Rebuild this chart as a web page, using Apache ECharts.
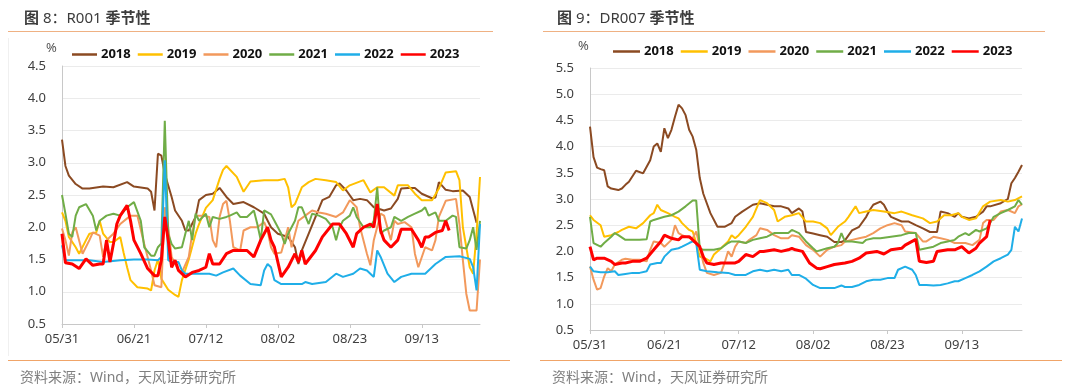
<!DOCTYPE html>
<html>
<head>
<meta charset="utf-8">
<script src="https://cdn.jsdelivr.net/npm/echarts@6/dist/echarts.min.js"></script>
<style>
html,body{margin:0;padding:0;background:#fff;}
#c{width:1080px;height:392px;}
</style>
</head>
<body>
<div id="c"></div>
<script>
// ---- categories: calendar days 05/31 .. 09/30 ----
const startDay = [2023, 4, 31];
const dayCount = 123;
const categories = [];
for (let i = 0; i < dayCount; i++) {
  const d = new Date(startDay[0], startDay[1], startDay[2] + i);
  categories.push(String(d.getMonth() + 1).padStart(2, '0') + '/' + String(d.getDate()).padStart(2, '0'));
}
const years = ['2018', '2019', '2020', '2021', '2022', '2023'];
const yTicksLeft = [0.5, 4.5, 0.5];   // min, max, interval
const yTicksRight = [0.5, 5.5, 0.5];

// ---- R001 series: [day index since 05/31, value] ----
const r001_2018 = [[0,3.36],[1,2.95],[2,2.8],[4,2.67],[6,2.6],[8,2.6],[12,2.63],[15,2.62],[19,2.7],[21,2.63],[25,2.6],[26,2.55],[27,2.26],[28,3.14],[29,3.11],[30,2.83],[32,2.47],[33,2.26],[35,2.1],[36,1.95],[37,1.95],[39,2.16],[40,2.42],[42,2.5],[44,2.52],[46,2.61],[48,2.47],[50,2.36],[53,2.39],[56,2.31],[59,2.21],[61,2.0],[63,1.9],[66,1.85],[68,1.69],[69,1.43],[70,1.64],[72,1.9],[74,2.16],[76,2.42],[78,2.47],[80,2.65],[81,2.68],[83,2.57],[85,2.42],[87,2.44],[89,2.42],[91,2.31],[94,2.26],[96,2.29],[98,2.44],[99,2.6],[101,2.61],[103,2.61],[105,2.52],[108,2.45],[109,2.46],[110,2.7],[112,2.58],[114,2.56],[117,2.57],[119,2.47],[121,2.07]];
const r001_2019 = [[0,2.23],[1,2.1],[2,1.85],[4,1.69],[5,1.59],[7,1.8],[8,1.9],[10,1.92],[11,2.1],[12,1.9],[14,1.77],[15,1.77],[17,1.85],[18,1.6],[19,1.38],[20,1.18],[22,1.07],[25,1.05],[26,1.02],[27,1.33],[28,1.5],[29,1.2],[31,1.03],[33,0.95],[34,0.92],[35,1.18],[37,1.5],[39,1.9],[40,2.05],[42,2.3],[44,2.42],[46,2.75],[47,2.89],[48,2.95],[51,2.78],[53,2.55],[55,2.71],[59,2.73],[61,2.73],[63,2.73],[65,2.75],[66,2.62],[67,2.31],[68,2.36],[70,2.62],[72,2.7],[74,2.75],[77,2.73],[80,2.7],[82,2.57],[84,2.65],[88,2.73],[90,2.54],[92,2.62],[94,2.62],[97,2.49],[98,2.65],[101,2.65],[103,2.52],[105,2.42],[108,2.42],[110,2.6],[112,2.85],[115,2.87],[116,2.73],[117,2.0],[119,1.38],[120,1.28],[121,1.9],[122,2.78]];
const r001_2020 = [[0,1.98],[1,1.8],[2,1.56],[3,1.92],[4,2.0],[6,1.59],[8,1.8],[9,1.92],[11,1.87],[12,1.54],[13,1.8],[15,1.9],[17,2.05],[20,2.18],[22,2.18],[24,1.74],[26,1.33],[27,1.1],[29,1.07],[30,2.31],[31,2.0],[32,1.54],[34,1.33],[35,1.3],[37,1.54],[38,1.9],[39,2.18],[41,2.18],[43,2.16],[44,1.8],[45,1.69],[46,2.16],[47,2.36],[48,2.41],[49,2.1],[50,1.69],[52,1.64],[53,1.95],[55,2.0],[57,2.0],[59,2.08],[60,1.95],[61,1.69],[62,1.59],[64,1.61],[65,1.8],[66,2.0],[67,1.69],[69,2.1],[71,2.18],[73,2.26],[75,2.23],[77,2.21],[80,2.16],[82,2.23],[84,2.42],[86,2.31],[87,2.0],[89,1.59],[90,1.41],[91,1.8],[93,2.21],[94,2.18],[96,1.8],[97,2.1],[98,2.05],[100,2.08],[102,2.0],[103,1.59],[104,1.38],[106,1.69],[108,1.64],[109,1.8],[110,2.16],[112,2.41],[115,2.44],[116,2.05],[117,1.49],[118,0.97],[119,0.71],[121,0.71],[122,1.5]];
const r001_2021 = [[0,2.5],[1,2.21],[2,1.9],[3,1.85],[4,2.18],[5,2.31],[7,2.36],[9,2.18],[10,1.95],[11,2.1],[13,2.18],[15,2.21],[17,2.18],[19,2.31],[21,2.39],[23,2.1],[24,1.69],[26,1.56],[27,1.56],[28,1.69],[29,1.75],[30,3.65],[31,1.9],[32,1.74],[33,1.67],[35,1.69],[36,1.9],[37,2.1],[38,1.8],[39,2.21],[40,2.1],[42,2.21],[43,2.0],[44,2.16],[46,2.13],[48,2.16],[49,2.18],[51,2.23],[52,2.16],[54,2.16],[56,2.26],[57,2.05],[58,1.8],[59,2.26],[61,2.2],[62,2.1],[64,1.9],[65,1.74],[66,1.9],[68,2.1],[69,2.31],[70,2.31],[72,2.05],[73,2.21],[75,2.18],[77,2.13],[79,2.0],[80,1.8],[81,2.0],[82,2.1],[84,2.18],[85,2.31],[86,2.16],[88,2.0],[90,2.0],[91,2.1],[92,2.62],[93,1.9],[94,1.95],[96,2.0],[97,2.16],[99,2.1],[101,2.16],[103,2.21],[105,2.26],[106,2.31],[107,2.18],[109,2.23],[110,2.1],[112,2.1],[114,2.18],[115,2.16],[116,1.69],[118,1.67],[119,1.8],[120,2.0],[121,1.65],[122,2.1]];
const r001_2022 = [[0,1.72],[1,1.49],[4,1.49],[8,1.49],[12,1.46],[17,1.49],[21,1.5],[25,1.5],[28,1.49],[29,1.54],[30,3.04],[31,1.49],[32,1.46],[34,1.46],[35,1.33],[36,1.28],[39,1.28],[43,1.28],[45,1.25],[47,1.3],[50,1.36],[52,1.25],[55,1.12],[58,1.1],[59,1.33],[60,1.43],[61,1.38],[62,1.18],[64,1.12],[67,1.12],[70,1.12],[71,1.15],[73,1.12],[77,1.15],[80,1.28],[82,1.23],[85,1.28],[87,1.36],[89,1.33],[91,1.23],[92,1.64],[93,1.54],[95,1.28],[97,1.15],[99,1.23],[102,1.28],[106,1.28],[109,1.43],[112,1.54],[116,1.55],[119,1.51],[120,1.38],[121,1.02],[122,2.05]];
const r001_2023 = [[0,1.9],[1,1.45],[3,1.43],[5,1.36],[7,1.51],[9,1.41],[11,1.43],[12,1.43],[13,1.8],[14,1.46],[15,1.74],[16,2.05],[17,2.18],[19,2.34],[20,2.1],[21,1.8],[23,1.59],[25,1.36],[27,1.25],[28,1.25],[29,1.49],[30,2.16],[31,1.8],[32,1.38],[33,1.49],[34,1.33],[36,1.23],[38,1.3],[40,1.33],[42,1.38],[43,1.59],[44,1.43],[46,1.43],[48,1.59],[50,1.64],[52,1.64],[54,1.64],[56,1.54],[58,1.8],[60,2.0],[61,1.8],[62,1.69],[64,1.23],[66,1.38],[68,1.59],[69,1.46],[70,1.64],[71,1.43],[74,1.64],[76,1.85],[79,2.05],[81,2.05],[83,1.9],[85,1.69],[86,1.9],[88,2.0],[90,2.05],[91,2.0],[92,2.36],[93,1.95],[94,1.8],[96,1.69],[98,1.8],[99,1.97],[102,1.97],[104,1.8],[105,1.69],[106,1.85],[107,1.85],[109,1.92],[111,1.95],[112,2.1],[113,1.95]];

// ---- DR007 series ----
const dr007_2018 = [[0,4.38],[1,3.8],[2,3.6],[3,3.57],[4,3.55],[5,3.24],[6,3.2],[8,3.17],[9,3.2],[10,3.27],[11,3.33],[13,3.54],[15,3.49],[17,3.74],[18,4.0],[19,4.06],[20,3.9],[21,4.35],[22,4.16],[23,4.32],[24,4.57],[25,4.8],[26,4.73],[27,4.6],[28,4.32],[29,4.19],[30,3.94],[31,3.4],[32,3.1],[34,2.73],[36,2.47],[38,2.47],[40,2.54],[41,2.66],[43,2.76],[46,2.89],[48,2.92],[50,2.89],[52,2.86],[54,2.86],[56,2.82],[57,2.73],[59,2.82],[60,2.76],[61,2.37],[63,2.34],[65,2.31],[67,2.28],[69,2.18],[71,2.18],[72,2.21],[74,2.4],[76,2.47],[78,2.66],[79,2.79],[80,2.89],[82,2.95],[83,2.89],[84,2.76],[85,2.66],[88,2.57],[90,2.57],[92,2.5],[94,2.44],[96,2.37],[98,2.37],[99,2.76],[101,2.73],[103,2.66],[104,2.73],[105,2.66],[107,2.63],[109,2.66],[111,2.76],[112,2.86],[113,2.86],[116,2.92],[118,3.0],[119,3.3],[120,3.4],[121,3.52],[122,3.65]];
const dr007_2019 = [[0,2.69],[1,2.6],[3,2.5],[4,2.28],[6,2.31],[8,2.37],[9,2.41],[11,2.47],[13,2.44],[15,2.54],[17,2.69],[18,2.73],[19,2.89],[20,2.79],[22,2.73],[24,2.66],[25,2.63],[26,2.54],[28,2.41],[29,2.38],[30,2.16],[31,1.9],[33,1.85],[34,1.81],[35,1.94],[37,2.06],[39,2.19],[40,2.31],[41,2.25],[42,2.31],[44,2.47],[46,2.66],[48,2.98],[50,2.92],[52,2.79],[53,2.57],[55,2.66],[57,2.69],[59,2.73],[61,2.57],[63,2.57],[65,2.54],[67,2.44],[68,2.31],[70,2.47],[72,2.57],[73,2.66],[75,2.86],[76,2.73],[78,2.76],[80,2.79],[83,2.76],[86,2.73],[88,2.76],[91,2.69],[94,2.63],[96,2.54],[98,2.57],[100,2.69],[102,2.69],[104,2.73],[105,2.66],[107,2.6],[109,2.63],[111,2.86],[113,2.95],[116,2.98],[118,2.95],[120,2.98],[122,3.05]];
const dr007_2020 = [[0,1.71],[1,1.46],[2,1.27],[3,1.3],[4,1.52],[5,1.68],[6,1.62],[7,1.75],[9,1.84],[10,1.86],[12,1.84],[14,1.84],[16,1.81],[17,2.03],[18,2.19],[20,2.16],[21,2.09],[23,2.22],[24,2.5],[25,2.35],[26,2.31],[27,2.28],[29,2.25],[30,2.38],[31,2.09],[32,1.78],[33,1.59],[35,1.55],[37,1.59],[38,1.78],[39,2.0],[40,1.9],[41,2.09],[42,2.19],[44,2.16],[45,2.22],[47,2.31],[48,2.44],[50,2.41],[52,2.31],[54,2.25],[56,2.25],[57,2.31],[59,2.28],[61,2.12],[63,2.03],[65,1.9],[67,2.03],[69,2.09],[71,2.12],[72,2.19],[74,2.22],[76,2.25],[78,2.28],[80,2.35],[82,2.44],[84,2.5],[86,2.54],[88,2.5],[89,2.38],[92,2.35],[94,2.19],[95,2.19],[97,2.28],[99,2.25],[101,2.22],[103,2.16],[104,2.16],[106,2.16],[108,2.12],[110,2.22],[111,2.54],[112,2.6],[114,2.6],[116,2.76],[118,2.79],[120,2.73],[121,2.86],[122,2.9]];
const dr007_2021 = [[0,2.66],[1,2.16],[3,2.09],[4,2.16],[6,2.28],[7,2.35],[8,2.31],[10,2.22],[12,2.22],[14,2.22],[16,2.23],[17,2.57],[18,2.6],[21,2.66],[23,2.69],[25,2.76],[27,2.86],[29,2.97],[30,2.97],[31,2.05],[32,2.03],[35,2.03],[37,2.06],[39,2.16],[40,2.19],[42,2.19],[44,2.16],[46,2.22],[48,2.25],[50,2.28],[52,2.35],[54,2.35],[56,2.35],[57,2.41],[59,2.35],[61,2.19],[63,2.06],[64,2.0],[67,2.06],[69,2.09],[70,2.16],[71,2.35],[72,2.19],[74,2.19],[77,2.16],[78,2.22],[80,2.25],[82,2.25],[85,2.28],[88,2.31],[90,2.35],[92,2.35],[93,2.03],[95,2.06],[97,2.09],[99,2.16],[101,2.19],[103,2.22],[104,2.28],[106,2.35],[107,2.31],[109,2.41],[110,2.38],[112,2.44],[113,2.54],[114,2.66],[116,2.73],[118,2.79],[120,2.86],[121,2.98],[122,2.89]];
const dr007_2022 = [[0,1.71],[1,1.62],[3,1.6],[5,1.6],[7,1.62],[8,1.55],[10,1.57],[12,1.59],[14,1.59],[16,1.62],[17,1.75],[19,1.78],[20,1.78],[21,1.9],[23,2.03],[25,2.06],[26,2.09],[28,2.16],[29,2.19],[30,2.16],[31,1.65],[33,1.62],[36,1.6],[39,1.59],[41,1.55],[42,1.55],[44,1.55],[46,1.62],[48,1.65],[50,1.62],[52,1.65],[54,1.62],[56,1.65],[57,1.55],[59,1.55],[61,1.48],[63,1.36],[65,1.3],[67,1.3],[69,1.3],[71,1.35],[72,1.32],[74,1.32],[76,1.36],[78,1.43],[80,1.46],[82,1.46],[84,1.49],[86,1.49],[87,1.65],[89,1.71],[91,1.65],[92,1.55],[93,1.36],[95,1.36],[97,1.35],[99,1.36],[101,1.39],[103,1.43],[104,1.43],[106,1.49],[108,1.55],[110,1.62],[112,1.71],[114,1.81],[116,1.87],[118,1.94],[119,2.03],[120,2.47],[121,2.38],[122,2.63]];
const dr007_2023 = [[0,2.09],[1,1.84],[2,1.87],[4,1.87],[6,1.81],[7,1.75],[9,1.78],[10,1.78],[12,1.81],[14,1.81],[16,1.87],[18,2.03],[20,2.19],[21,2.31],[23,2.25],[25,2.22],[26,2.28],[28,2.28],[29,2.22],[31,2.09],[32,1.9],[33,1.78],[35,1.75],[37,1.78],[39,1.78],[41,1.78],[42,1.81],[44,1.94],[46,1.9],[48,2.0],[49,2.0],[52,2.03],[54,2.0],[56,2.03],[57,2.06],[58,2.03],[60,2.0],[62,1.78],[64,1.68],[65,1.67],[67,1.71],[69,1.75],[72,1.78],[74,1.81],[76,1.87],[78,1.97],[81,2.0],[83,1.95],[85,2.03],[88,2.06],[89,2.12],[92,2.23],[93,1.81],[95,1.79],[97,1.81],[98,2.0],[101,2.03],[103,2.03],[105,2.09],[106,2.03],[107,1.97],[109,2.06],[110,2.16],[112,2.28],[113,2.6]];

const leftData = [r001_2018, r001_2019, r001_2020, r001_2021, r001_2022, r001_2023];
const rightData = [dr007_2018, dr007_2019, dr007_2020, dr007_2021, dr007_2022, dr007_2023];

const colors = ['#8B4A22', '#FFC000', '#F2995C', '#70AD47', '#1FAEE8', '#FF0000'];
const widths = [2, 2, 2, 2, 2, 3];
const FONT = '"Noto Sans", "Noto Sans CJK SC", sans-serif';

function xAxisCfg(gi) {
  return {
    type: 'category', gridIndex: gi, data: categories, boundaryGap: false,
    axisLine: { lineStyle: { color: '#c8c8c8', width: 1 } },
    axisTick: { show: true, interval: 20, length: 4, lineStyle: { color: '#c8c8c8' } },
    axisLabel: { interval: 20, color: '#404040', fontSize: 13, fontFamily: FONT, margin: 9 },
    splitLine: { show: false }
  };
}
function yAxisCfg(gi, t) {
  return {
    type: 'value', gridIndex: gi, min: t[0], max: t[1], interval: t[2],
    axisLine: { show: true, lineStyle: { color: '#c8c8c8' } },
    axisTick: { show: false },
    axisLabel: { color: '#404040', fontSize: 13, fontFamily: FONT, margin: 16, formatter: v => v.toFixed(1) },
    splitLine: { lineStyle: { color: '#ebebeb', width: 1 } }
  };
}
function legendCfg(left, top, itemWidth) {
  return {
    left: left, top: top, itemWidth: itemWidth, itemHeight: 2.5, itemGap: 7, icon: 'rect',
    data: years,
    textStyle: { color: '#111', fontSize: 13, fontWeight: 'bold', fontFamily: FONT, padding: [0, 0, 0, -1] }
  };
}

const series = [];
years.forEach((y, i) => {
  series.push({ name: y, type: 'line', xAxisIndex: 0, yAxisIndex: 0, data: leftData[i], showSymbol: false, symbol: 'none',
    lineStyle: { color: colors[i], width: widths[i] }, itemStyle: { color: colors[i] }, connectNulls: true, z: 2 + i, animation: false });
});
years.forEach((y, i) => {
  series.push({ name: y, type: 'line', xAxisIndex: 1, yAxisIndex: 1, data: rightData[i], showSymbol: false, symbol: 'none',
    lineStyle: { color: colors[i], width: widths[i] }, itemStyle: { color: colors[i] }, connectNulls: true, z: 2 + i, animation: false });
});

const titleRich = {
  b: { fontSize: 15, fontWeight: 'bold', color: '#3c3c3c', fontFamily: FONT },
  n: { fontSize: 15, fontWeight: 'normal', color: '#3c3c3c', fontFamily: FONT }
};

const option = {
  backgroundColor: '#fff',
  animation: false,
  title: [
    { text: '{b|图 }{n|8：R001 }{b|季节性}', left: 19, top: 6, textStyle: { rich: titleRich } },
    { text: '{b|图 }{n|9：DR007 }{b|季节性}', left: 552, top: 6, textStyle: { rich: titleRich } }
  ],
  legend: [legendCfg(67, 43, 25), legendCfg(608, 40, 27)],
  grid: [
    { left: 62, top: 66, width: 418, height: 258 },
    { left: 590, top: 68, width: 432, height: 262 }
  ],
  xAxis: [xAxisCfg(0), xAxisCfg(1)],
  yAxis: [yAxisCfg(0, yTicksLeft), yAxisCfg(1, yTicksRight)],
  series: series,
  graphic: [
    { type: 'line', shape: { x1: 8, y1: 31.5, x2: 493, y2: 31.5 }, style: { stroke: '#EFB183', lineWidth: 1.2 } },
    { type: 'line', shape: { x1: 543, y1: 31.5, x2: 1045, y2: 31.5 }, style: { stroke: '#EFB183', lineWidth: 1.2 } },
    { type: 'line', shape: { x1: 8, y1: 360.5, x2: 510, y2: 360.5 }, style: { stroke: '#F0A468', lineWidth: 1.2 } },
    { type: 'line', shape: { x1: 540, y1: 360.5, x2: 1062, y2: 360.5 }, style: { stroke: '#F0A468', lineWidth: 1.2 } },
    { type: 'line', shape: { x1: 8.5, y1: 38, x2: 8.5, y2: 356 }, style: { stroke: '#f0f0f0', lineWidth: 1 } },
    { type: 'text', left: 46, top: 42, style: { text: '%', fill: '#555', fontSize: 13, fontFamily: FONT } },
    { type: 'text', left: 578, top: 40, style: { text: '%', fill: '#555', fontSize: 13, fontFamily: FONT } },
    { type: 'text', left: 20, top: 371, style: { text: '资料来源：Wind，天风证券研究所', fill: '#7f7f7f', fontSize: 14, fontFamily: FONT } },
    { type: 'text', left: 552, top: 371, style: { text: '资料来源：Wind，天风证券研究所', fill: '#7f7f7f', fontSize: 14, fontFamily: FONT } }
  ]
};

const chart = echarts.init(document.getElementById('c'), null, { renderer: 'canvas' });
chart.setOption(option);
</script>
</body>
</html>
